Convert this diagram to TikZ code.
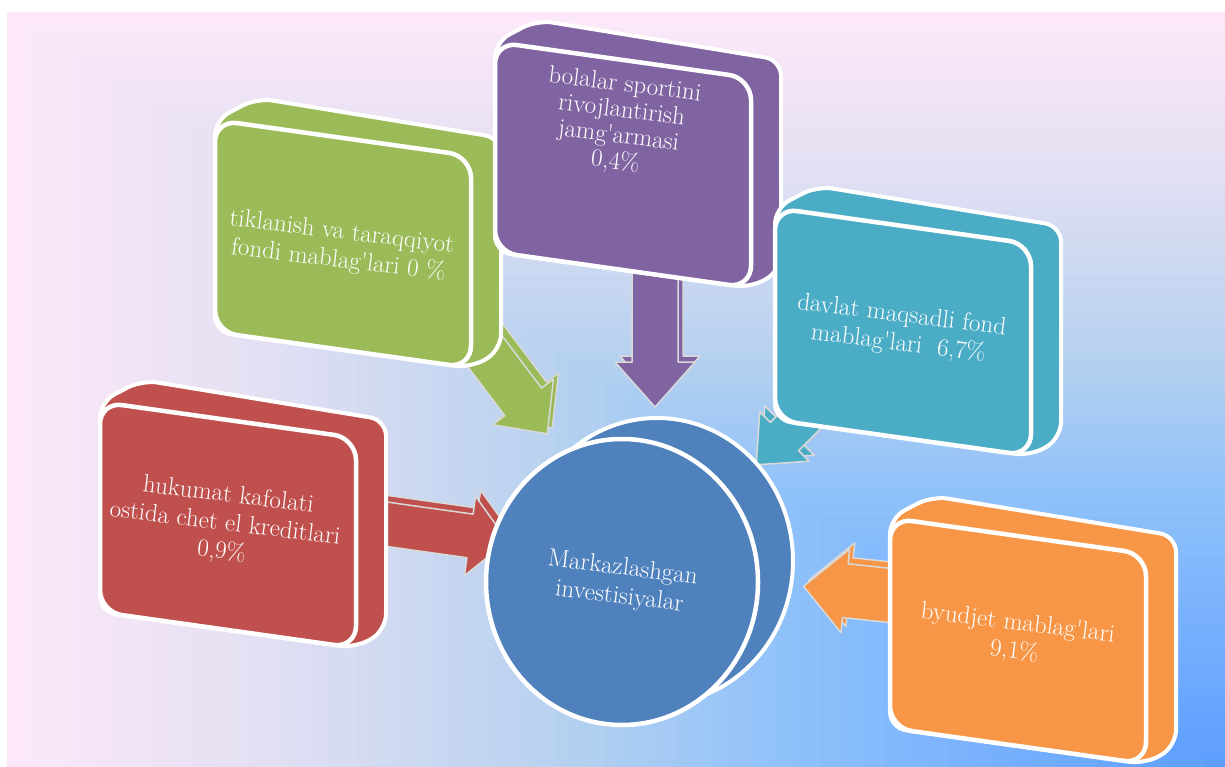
\documentclass[tikz,border=0pt]{standalone}
\definecolor{bgA}{HTML}{FCE8F8}
\definecolor{bgB}{HTML}{E4E0F3}
\definecolor{bgC}{HTML}{B6D1EF}
\definecolor{bgD}{HTML}{8CC0FB}
\definecolor{bgE}{HTML}{5C9CFF}
\definecolor{krd}{HTML}{C0504D}
\definecolor{grn}{HTML}{9BBB59}
\definecolor{pur}{HTML}{8064A2}
\definecolor{cyn}{HTML}{4BACC6}
\definecolor{org}{HTML}{F79646}
\definecolor{ctr}{HTML}{4F81BD}
\definecolor{blkline}{HTML}{D9D9D9}
\begin{document}
\begin{tikzpicture}[x=1pt,y=-1pt,
        hull/.style={fill=#1,draw=white,line width=4pt,rounded corners=16pt,line join=round},
        face/.style={fill=#1,draw=white,line width=4.5pt,rounded corners=22pt},
        blk/.style={fill=#1,draw=blkline,line width=1.5pt,line join=round},
        lbl/.style={text=white,align=center,rotate=-7,font=\fontsize{25}{28.5}\selectfont}]
        \useasboundingbox (0,0) rectangle (1225,767);
        \fill[white] (0,0) rectangle (1225,767);
    
        % background, bands towards the lower right corner
        \foreach \ta/\tb/\ca/\cb in {0/.2/bgA/bgB,.2/.45/bgB/bgC,.45/.65/bgC/bgD,.65/1/bgD/bgE}
          \foreach \k in {0,...,19} {
            \pgfmathsetmacro\tpos{\ta+(\tb-\ta)*\k/20}
            \pgfmathtruncatemacro\pmix{100-5*\k}
            \fill[\ca!\pmix!\cb] (7+1218*\tpos,12+755*\tpos) rectangle (1225,767);
          }
    
        % block arrows: tail, angle, shaft, half widths, head length
        \foreach \ax/\ay/\ang/\shaft/\sw/\hw/\hl/\col in {371/522/8/100/22/40/38/krd,
            475/338/53/80/23/38/40/grn, 655/267/90/95/23/40/45/pur,
            834/387/135/70/20/35/40/cyn, 905/597/186/60/27/42/42/org}
        {
          \begin{scope}[shift={(\ax+5,\ay-6)},rotate=-\ang]
            \draw[blk=\col] (0,-\sw) -- (\shaft,-\sw) -- (\shaft,-\hw) -- (\shaft+\hl,0)
              -- (\shaft,\hw) -- (\shaft,\sw) -- (0,\sw) -- cycle;
          \end{scope}
          \begin{scope}[shift={(\ax,\ay)},rotate=-\ang]
            \draw[blk=\col] (0,-\sw) -- (\shaft,-\sw) -- (\shaft,-\hw) -- (\shaft+\hl,0)
              -- (\shaft,\hw) -- (\shaft,\sw) -- (0,\sw) -- cycle;
          \end{scope}
        }
    
        % boxes
        \foreach \bx/\by/\bh/\col in {100/402/210/krd, 215/120/212/grn, 495/42/210/pur,
            775/208/212/cyn, 890/518/210/org}
        {
          \draw[hull=\col] (\bx,\by) -- (\bx+42,\by-22) -- (\bx+286,\by+18)
            -- (\bx+286,\by+18+\bh) -- (\bx+256,\by+36+\bh) -- (\bx,\by+\bh) -- cycle;
          \draw[face=\col] (\bx,\by) -- (\bx+256,\by+36) -- (\bx+256,\by+36+\bh)
            -- (\bx,\by+\bh) -- cycle;
        }
    
        % centre disc
        \draw[fill=ctr,draw=white,line width=4pt] (657,561) ellipse [x radius=136,y radius=143];
        \draw[fill=ctr,draw=white,line width=4.5pt] (622,582) ellipse [x radius=136,y radius=143];
    
        \node[lbl] (kredit) at (225,524) {hukumat kafolati\\ostida chet el kreditlari\\0,9\%};
        \node[lbl] (tiklanish) at (340,247) {tiklanish va taraqqiyot\\fondi mablag\textquotesingle lari 0 \%};
        \node[lbl,font=\fontsize{25}{26}\selectfont] (sport) at (620,124) {bolalar sportini\\rivojlantirish\\jamg\textquotesingle armasi\\0,4\%};
        \node[lbl] (fond) at (900,330) {davlat maqsadli fond\\mablag\textquotesingle lari\ \ 6,7\%};
        \node[lbl] (byudjet) at (1016,638) {byudjet mablag\textquotesingle lari\\9,1\%};
        \node[lbl] (markaz) at (621,583) {Markazlashgan\\investisiyalar};
    \end{tikzpicture}
\end{document}
